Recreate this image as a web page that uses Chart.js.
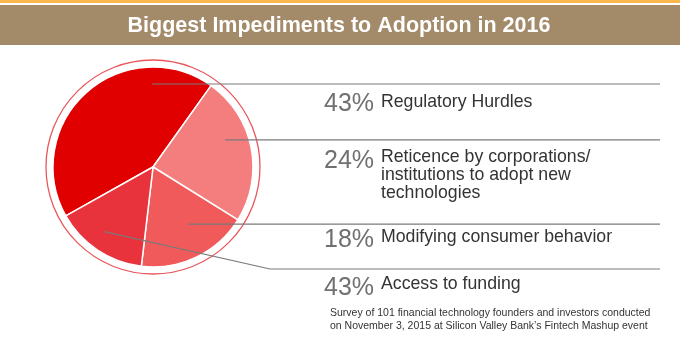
<!DOCTYPE html>
<html>
<head>
<meta charset="utf-8">
<script src="https://cdn.jsdelivr.net/npm/chart.js@4.4.1/dist/chart.umd.min.js"></script>
<style>
  html, body { margin: 0; padding: 0; background: #fff; }
  #impedimentsChart { display: block; }
</style>
</head>
<body>
<canvas id="impedimentsChart" width="680" height="350"></canvas>
<script>
// slice sizes as drawn in the pie (the last one is printed as 43% in the source graphic)
const categories = ['Regulatory Hurdles', 'Reticence by corporations/ institutions to adopt new technologies', 'Modifying consumer behavior', 'Access to funding'];
const shareValues = [43, 24, 18, 15];
const shareLabels = ['43%', '24%', '18%', '43%'];
const labelLines = [
    ['Regulatory Hurdles'],
    ['Reticence by corporations/', 'institutions to adopt new', 'technologies'],
    ['Modifying consumer behavior'],
    ['Access to funding']
];
const sliceColors = ['#e10000', '#f47d7d', '#f05a5a', '#e8323c'];
const chartTitle = 'Biggest Impediments to Adoption in 2016';
const footNote = [
    'Survey of 101 financial technology founders and investors conducted',
    'on November 3, 2015 at Silicon Valley Bank\u2019s Fintech Mashup event'
];

// where each leader line starts inside its slice (degrees clockwise from top, fraction of radius)
const leaders = [
    { angle: 359.3, r: 0.83 },
    { angle: 69.4, r: 0.77 },
    { angle: 148.4, r: 0.67 },
    { angle: 217, r: 0.81, elbow: { x: 270, y: 269 } }
];
const pctBaseline = [111, 168, 247, 295];
const labelBaseline = [107, 162, 242, 289];

const decor = {
    id: 'decor',
    beforeDraw(chart) {
        const c = chart.ctx;
        c.save();
        c.fillStyle = '#fff';
        c.fillRect(0, 0, chart.width, chart.height);
        // header bands
        c.fillStyle = '#fbb64e';
        c.fillRect(0, 0, chart.width, 3);
        c.fillStyle = '#a38a69';
        c.fillRect(0, 5, chart.width, 40);
        c.fillStyle = '#fff';
        c.font = 'bold 21.5px "Liberation Sans", Arial, sans-serif';
        c.textAlign = 'center';
        c.textBaseline = 'alphabetic';
        c.fillText(chartTitle, 339, 32);
        c.restore();
    },
    beforeDatasetsDraw(chart) {
        const arc = chart.getDatasetMeta(0).data[0];
        const c = chart.ctx;
        c.save();
        c.beginPath();
        c.arc(arc.x, arc.y, arc.outerRadius + 7, 0, Math.PI * 2);
        c.strokeStyle = 'rgba(226, 30, 36, 0.75)';
        c.lineWidth = 1.3;
        c.stroke();
        c.restore();
    },
    afterDatasetsDraw(chart) {
        const arcs = chart.getDatasetMeta(0).data;
        const cx = arcs[0].x, cy = arcs[0].y, R = arcs[0].outerRadius;
        const c = chart.ctx;
        c.save();
        c.strokeStyle = '#7a7a7a';
        c.lineWidth = 1.2;
        leaders.forEach(function (l) {
            const a = l.angle * Math.PI / 180;
            const x0 = cx + Math.sin(a) * R * l.r;
            const y0 = cy - Math.cos(a) * R * l.r;
            c.beginPath();
            c.moveTo(x0, y0);
            let y1 = y0;
            if (l.elbow) {
                c.lineTo(l.elbow.x, l.elbow.y);
                y1 = l.elbow.y;
            }
            c.lineTo(660, y1);
            c.stroke();
        });

        c.textAlign = 'left';
        c.textBaseline = 'alphabetic';
        shareLabels.forEach(function (p, i) {
            c.fillStyle = '#707070';
            c.font = '25px "Liberation Sans", Arial, sans-serif';
            c.fillText(p, 324, pctBaseline[i]);
            c.fillStyle = '#333';
            c.font = '17.7px "Liberation Sans", Arial, sans-serif';
            labelLines[i].forEach(function (t, j) {
                c.fillText(t, 381, labelBaseline[i] + j * 18);
            });
        });

        c.fillStyle = '#333';
        c.font = '10.5px "Liberation Sans", Arial, sans-serif';
        footNote.forEach(function (t, j) {
            c.fillText(t, 330, 316 + j * 13);
        });
        c.restore();
    }
};

document.addEventListener('DOMContentLoaded', function () {
    const ctx = document.getElementById('impedimentsChart');
    new Chart(ctx, {
        type: 'pie',
        data: {
            labels: categories,
            datasets: [{
                data: shareValues,
                backgroundColor: sliceColors,
                borderColor: '#fff',
                borderWidth: 1.5,
                hoverOffset: 0
            }]
        },
        options: {
            responsive: false,
            devicePixelRatio: 1,
            animation: false,
            rotation: 240.7,
            radius: 100,
            layout: { padding: { left: 40, right: 414, top: 60, bottom: 76 } },
            plugins: {
                legend: { display: false },
                tooltip: { enabled: false }
            }
        },
        plugins: [decor]
    });
});
</script>
</body>
</html>
